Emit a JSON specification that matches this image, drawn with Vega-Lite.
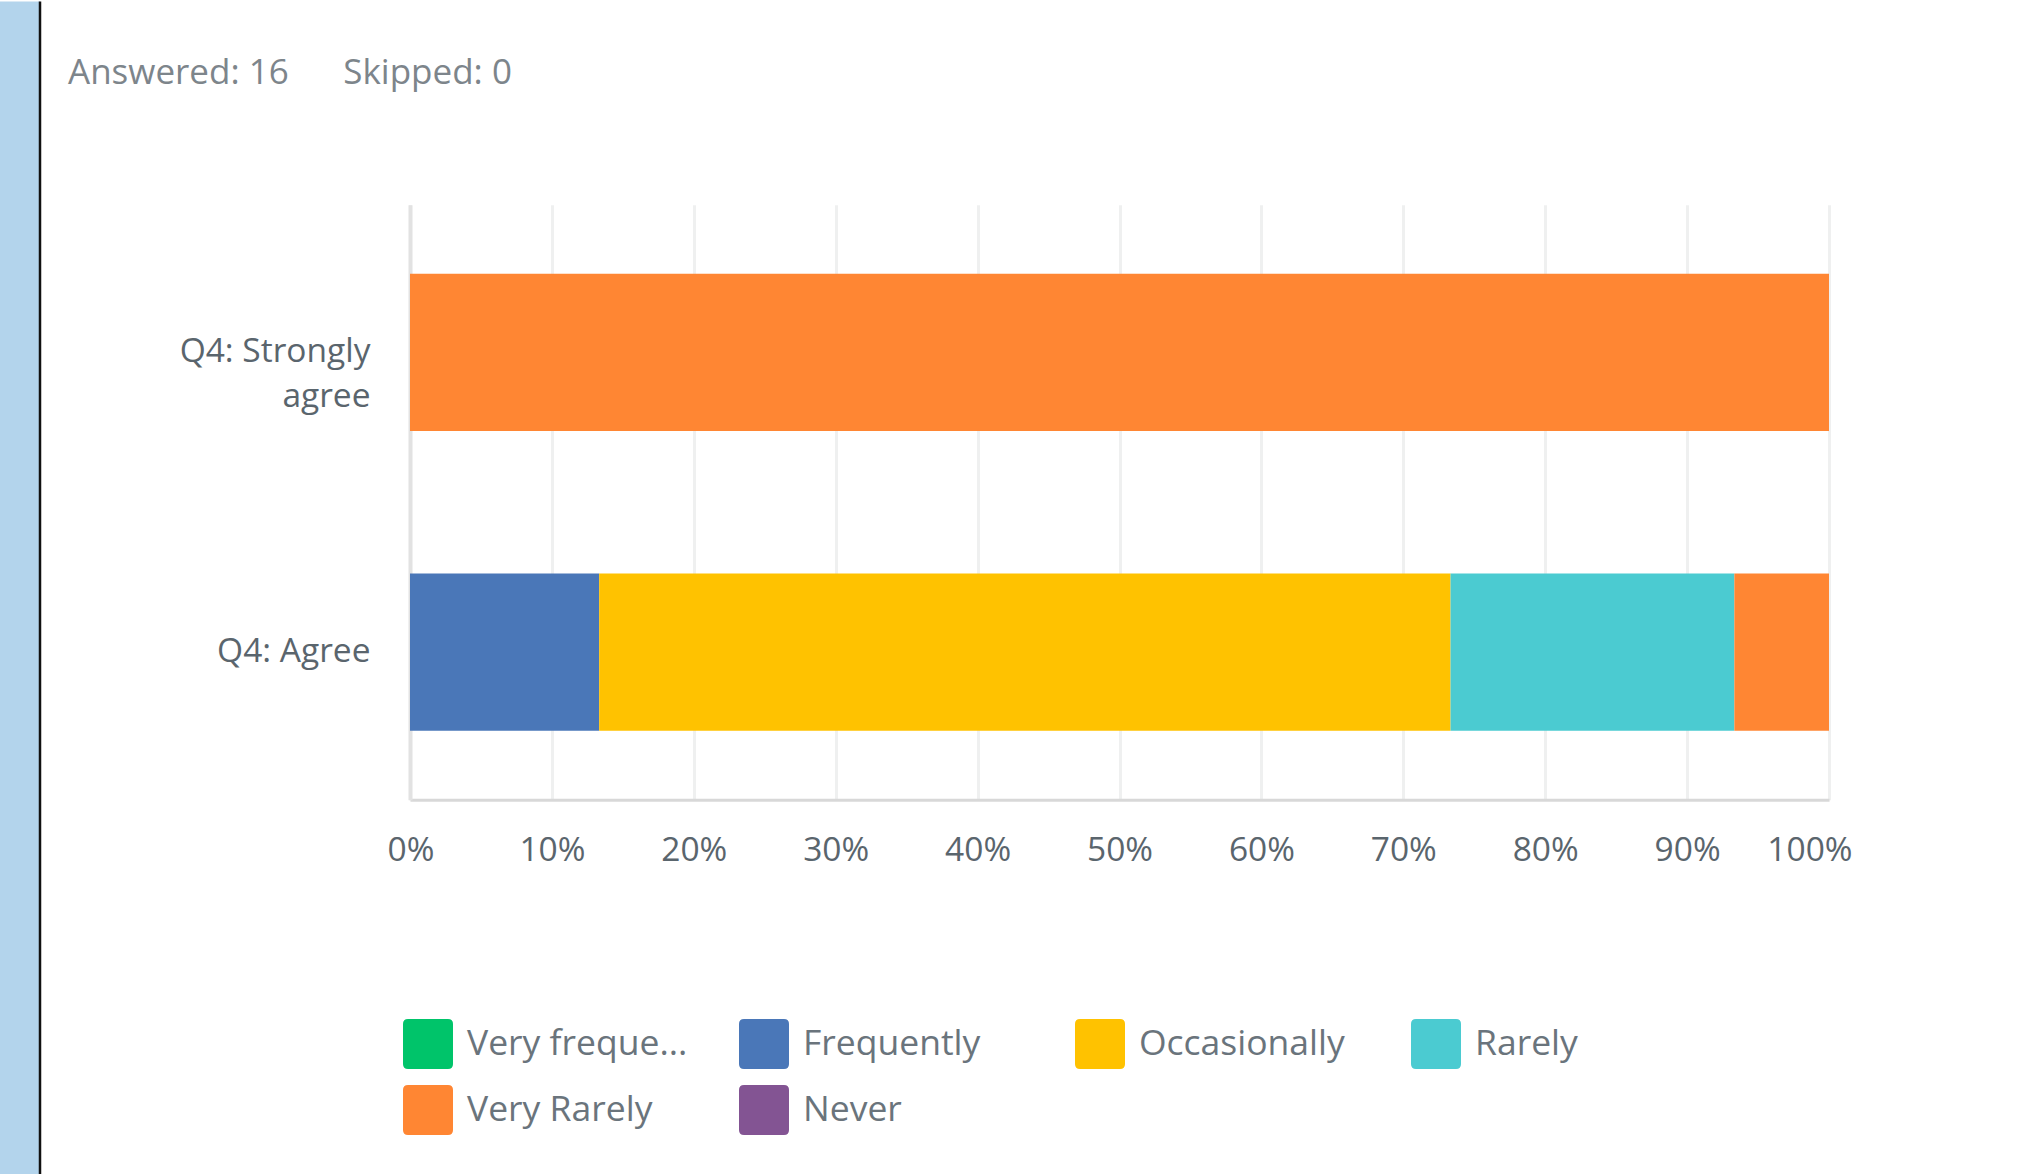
{
  "$schema": "https://vega.github.io/schema/vega-lite/v6.json",
  "padding": 0,
  "background": "white",
  "spacing": 26,
  "center": true,
  "config": {
    "font": "Open Sans",
    "view": {"stroke": null}
  },
  "hconcat": [
    {
      "width": 40,
      "height": 1174,
      "data": {"values": [{"edge": 1}]},
      "view": {"fill": "#b3d4ec", "stroke": null},
      "mark": {"type": "rule", "color": "#111111", "strokeWidth": 2.5},
      "encoding": {
        "x": {"field": "edge", "type": "quantitative", "scale": {"domain": [0, 1]}, "axis": null}
      }
    },
    {
      "width": 1419,
      "height": 595,
      "title": {
        "text": "Answered: 16\u00a0\u00a0\u00a0\u00a0\u00a0\u00a0Skipped: 0",
        "anchor": "start",
        "frame": "group",
        "dx": -342,
        "offset": 114,
        "fontSize": 35,
        "font": "Open Sans",
        "fontWeight": "normal",
        "color": "#7d858b"
      },
      "data": {
        "values": [
          {"question": "Q4: Strongly agree", "answer": "Very Rarely", "pct": 100, "k": 5},
          {"question": "Q4: Agree", "answer": "Frequently", "pct": 13.33, "k": 2},
          {"question": "Q4: Agree", "answer": "Occasionally", "pct": 60, "k": 3},
          {"question": "Q4: Agree", "answer": "Rarely", "pct": 20, "k": 4},
          {"question": "Q4: Agree", "answer": "Very Rarely", "pct": 6.67, "k": 5}
        ]
      },
      "mark": {"type": "bar"},
      "encoding": {
        "y": {
          "field": "question",
          "type": "nominal",
          "sort": ["Q4: Strongly agree", "Q4: Agree"],
          "scale": {"paddingInner": 0.475, "paddingOuter": 0.23},
          "axis": {
            "title": null,
            "ticks": false,
            "grid": false,
            "domainColor": "#e2e2e2",
            "domainWidth": 4,
            "labelFontSize": 33.5,
            "labelColor": "#5a656d",
            "labelPadding": 40,
            "labelLineHeight": 45,
            "labelLimit": 400,
            "labelExpr": "datum.label == 'Q4: Strongly agree' ? ['Q4: Strongly', 'agree'] : datum.label"
          }
        },
        "x": {
          "field": "pct",
          "type": "quantitative",
          "stack": "zero",
          "scale": {"domain": [0, 100], "nice": false},
          "axis": {
            "title": "\u00a0",
            "titleFontSize": 10,
            "titlePadding": 96,
            "values": [0, 10, 20, 30, 40, 50, 60, 70, 80, 90, 100],
            "labelExpr": "datum.value + '%'",
            "ticks": false,
            "grid": true,
            "gridColor": "#eff0f0",
            "gridWidth": 3,
            "domainColor": "#d8d8d8",
            "domainWidth": 3,
            "labelFontSize": 33.5,
            "labelColor": "#5a656d",
            "labelPadding": 35,
            "labelFlush": true,
            "labelFlushOffset": 23
          }
        },
        "color": {
          "field": "answer",
          "type": "nominal",
          "scale": {
            "domain": ["Very frequently", "Frequently", "Occasionally", "Rarely", "Very Rarely", "Never"],
            "range": ["#00c46a", "#4a77b8", "#ffc200", "#4bcbd1", "#ff8633", "#835493"]
          },
          "legend": {
            "title": null,
            "orient": "none",
            "legendX": 403,
            "legendY": 1018,
            "direction": "horizontal",
            "columns": 4,
            "gridAlign": "all",
            "symbolType": "M-0.8,-1H0.8Q1,-1 1,-0.8V0.8Q1,1 0.8,1H-0.8Q-1,1 -1,0.8V-0.8Q-1,-1 -0.8,-1Z",
            "symbolSize": 2500,
            "symbolStrokeWidth": 0,
            "symbolOpacity": 1,
            "labelFontSize": 35.5,
            "labelColor": "#6a747c",
            "labelOffset": 14,
            "labelLimit": 400,
            "rowPadding": 16,
            "columnPadding": 51,
            "labelExpr": "datum.label == 'Very frequently' ? 'Very freque...' : datum.label"
          }
        },
        "order": {"field": "k", "type": "quantitative"}
      }
    }
  ]
}
